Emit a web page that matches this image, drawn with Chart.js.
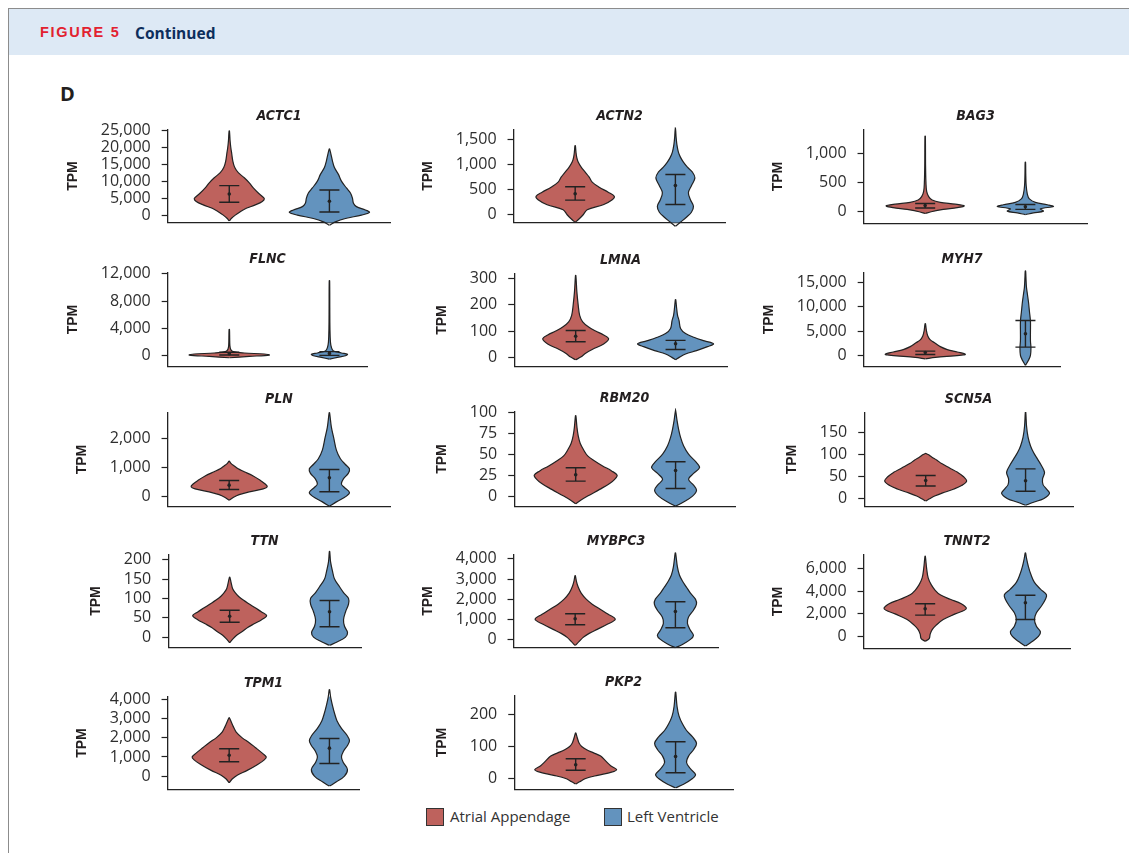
<!DOCTYPE html>
<html>
<head>
<meta charset="utf-8">
<script src="https://cdn.jsdelivr.net/npm/chart.js@4.4.0/dist/chart.umd.min.js"></script>
<style>
  body { margin: 0; background: #fff; }
  #page { position: relative; width: 1129px; height: 853px; overflow: hidden; font-family: 'Open Sans', sans-serif; }
  #frame { position: absolute; left: 8px; top: 8px; right: -2px; bottom: -2px; border-left: 1px solid #8c8c8c; border-top: 1px solid #8c8c8c; }
  #band { position: absolute; left: 9px; top: 9px; right: 0; height: 46px; background: #dde9f5; }
  #fig { position: absolute; left: 40px; top: 24px; font: 900 14.5px 'Liberation Sans', sans-serif; letter-spacing: 1.7px; color: #e2212f; }
  #cont { position: absolute; left: 135px; top: 22px; font: bold 15.5px 'Open Sans', sans-serif; color: #0d2e5c; }
  #panelD { position: absolute; left: 60px; top: 80px; font: bold 20px 'Open Sans', sans-serif; color: #231f20; }
  .ptitle { position: absolute; transform: translate(-50%, -50%); white-space: nowrap;
            font: italic bold 14px 'Liberation Sans Narrow', 'DejaVu Sans Condensed', 'Liberation Sans', sans-serif; color: #231f20; }
  .wrap { position: absolute; }
  .lbox { position: absolute; width: 16px; height: 16px; border: 1px solid #333; }
  .ltext { position: absolute; font: 15px 'Open Sans', sans-serif; color: #333; white-space: nowrap; }
</style>
</head>
<body>
<div id="page">
  <div id="frame"></div>
  <div id="band"></div>
  <div id="fig">FIGURE 5</div>
  <div id="cont">Continued</div>
  <div id="panelD">D</div>
  <div class="lbox" style="left:426px;top:808px;background:#be625d"></div>
  <div class="ltext" style="left:450px;top:806px">Atrial Appendage</div>
  <div class="lbox" style="left:604px;top:808px;background:#6393be"></div>
  <div class="ltext" style="left:627px;top:806px">Left Ventricle</div>
</div>
<script>
const genes = ['ACTC1', 'ACTN2', 'BAG3', 'FLNC', 'LMNA', 'MYH7', 'PLN', 'RBM20', 'SCN5A', 'TTN', 'MYBPC3', 'TNNT2', 'TPM1', 'PKP2'];
const groups = ['Atrial Appendage', 'Left Ventricle'];

// y axis range and tick labels per gene
const yMin = [-2150, -153, -201, -1566, -35.6, -2251, -357, -12.3, -17.5, -26.5, -397, -1064, -694, -34];
const yMax = [25200, 1699, 1412, 12190, 320, 16984, 2903, 100.8, 196, 213, 4214, 7270, 4157, 259];
const yTicks = [
  [0, 5000, 10000, 15000, 20000, 25000],
  [0, 500, 1000, 1500],
  [0, 500, 1000],
  [0, 4000, 8000, 12000],
  [0, 100, 200, 300],
  [0, 5000, 10000, 15000],
  [0, 1000, 2000],
  [0, 25, 50, 75, 100],
  [0, 50, 100, 150],
  [0, 50, 100, 150, 200],
  [0, 1000, 2000, 3000, 4000],
  [0, 2000, 4000, 6000],
  [0, 1000, 2000, 3000, 4000],
  [0, 100, 200]
];

// mean and error bar ends
const aaMean = [6200, 418, 105, 300, 80, 600, 382, 25.5, 41.6, 54, 1026, 2455, 1095, 43];
const aaLow  = [3800, 291, 65, 100, 59, 200, 232, 17.9, 29, 38.6, 729, 1890, 751, 26];
const aaHigh = [8700, 558, 140, 500, 102, 880, 545, 33.8, 53, 69.5, 1274, 2900, 1429, 61.6];
const lvMean = [4100, 584, 86, 340, 51, 4440, 638, 30.6, 41, 65.4, 1388, 2990, 1461, 69];
const lvLow  = [900, 205, 40, 50, 29, 1700, 153, 9.1, 17, 26.8, 580, 1510, 663, 18];
const lvHigh = [7400, 803, 125, 600, 64, 7160, 926, 41, 68, 94.5, 1869, 3660, 1967, 115];

// violin outlines: [TPM, density], density = half width in % of category spacing
const aaDensity = [
  [[-1700,0],[-1000,2],[0,6],[1000,11],[2000,17],[3000,26],[4000,33],[4800,35],[5500,33],[6500,29],[8000,24],[9500,20],[11000,15],[12500,9],[14000,5.5],[16000,3.5],[18000,2.5],[20000,1.5],[22000,0.8],[24800,0.2]],
  [[-150,0],[-100,3],[0,8],[100,12],[200,28],[300,37],[370,39],[450,33],[550,24],[650,17],[750,14],[850,10],[950,6],[1050,3],[1150,1.5],[1250,0.8],[1380,0.2]],
  [[-30,0],[0,6],[40,18],[70,32],[100,39],[130,30],[160,15],[200,7],[260,3.5],[350,1.5],[500,0.8],[800,0.4],[1300,0.2]],
  [[-300,0],[-100,20],[100,40],[250,35],[400,15],[600,4],[900,1.5],[1500,0.6],[2500,0.4],[3850,0.2]],
  [[-10,0],[0,5],[15,10],[30,17],[50,28],[70,33],[85,28],[100,20],[115,13],[135,7],[160,4],[200,2.5],[250,1.2],[313,0.2]],
  [[-700,0],[-400,10],[0,34],[250,40],[700,32],[1200,22],[1800,15],[2500,10],[3200,5],[4000,2.5],[5000,1.2],[6500,0.2]],
  [[-140,0],[-50,4],[50,10],[150,20],[250,34],[326,38],[420,36],[550,31],[700,24],[850,15],[950,9],[1050,5],[1130,2],[1214,0.2]],
  [[-9,0],[-5,5],[0,12],[8,24],[15,34],[20,39],[25,41.5],[30,36],[36,27],[42,19],[48,12],[55,8],[63,4.5],[72,2.5],[82,1.3],[96,0.2]],
  [[-5,0],[0,4],[6,9],[14,18],[21,27],[30,36],[40,41],[50,38],[60,32],[70,24],[80,16],[88,11],[95,6],[100,3],[103,0.3]],
  [[-14,0],[-5,3],[5,7],[15,13],[25,18],[35,25],[45,32],[55,37],[65,32],[75,26],[85,20],[95,14],[105,9],[115,5.5],[125,3],[140,1.5],[155,0.2]],
  [[-300,0],[-100,4],[100,8],[300,14],[500,22],[750,32],[1000,40],[1250,33],[1500,25],[1750,17],[2000,11],[2300,6],[2600,3],[2900,1.2],[3170,0.2]],
  [[-420,0],[-200,4],[200,5],[600,7],[1000,11],[1500,18],[2000,30],[2455,41],[2900,36],[3300,25],[3700,15],[4100,10],[4600,6],[5200,3],[6000,1.5],[7120,0.2]],
  [[-345,0],[-150,3],[50,8],[300,18],[600,28],[850,35],[1000,37],[1200,33],[1500,26],[1750,20],[2000,13],[2300,7],[2600,4],[2800,2.3],[3050,0.2]],
  [[-17,0],[-10,4],[0,10],[10,22],[20,36],[28,41],[40,35],[55,30],[70,25],[80,18],[90,11],[100,6],[110,3.5],[125,1.8],[142,0.2]]
];
const lvDensity = [
  [[-3000,0],[-2000,6],[-1000,16],[0,32],[800,40],[1500,36],[2500,27],[3500,24],[5000,23],[6500,21],[8000,17],[10000,12],[12000,9],[14000,5],[16000,3],[18000,1.5],[19500,0.2]],
  [[-230,0],[-150,5],[-50,11],[50,16],[170,18],[300,15],[440,13],[580,16],[735,19.5],[850,17],[950,12],[1050,8],[1150,5],[1250,3],[1400,1.5],[1550,0.7],[1700,0.2]],
  [[-50,0],[-20,8],[10,18],[50,15],[90,28],[120,22],[160,10],[220,4],[300,2],[450,0.8],[650,0.4],[850,0.2]],
  [[-500,0],[-250,8],[0,16],[200,18],[400,12],[700,4],[1200,2],[2000,1],[4000,0.5],[7000,0.35],[11000,0.2]],
  [[-10,0],[0,4],[12,10],[25,21],[40,32],[51,38],[62,29],[75,19],[90,10],[110,5],[140,3.5],[160,2],[190,1],[220,0.2]],
  [[-2000,0],[-1000,3],[0,5],[1500,5.5],[3000,5],[5000,5],[7000,5],[9000,4],[11000,3],[12500,2],[14000,1],[16000,0.5],[17300,0.2]],
  [[-350,0],[-200,7],[0,17],[130,20],[300,15],[420,12],[600,14],[800,19],[950,20],[1100,16],[1300,11],[1600,7],[2000,4.5],[2400,2],[2900,0.2]],
  [[-12,0],[-7,8],[0,17],[7,21],[13,18],[20,13],[27,18],[34,24],[40,21],[50,13],[60,8],[70,5],[80,3],[90,1.5],[101,0.2]],
  [[-15,0],[-8,8],[0,18],[12,24],[22,21],[32,17.5],[45,17],[60,19],[75,16],[90,12],[105,8],[120,5],[140,2.5],[165,1],[197,0.2]],
  [[-21,0],[-12,8],[0,16],[12,18],[28,15],[45,14],[65,16],[85,19],[100,19],[115,14],[130,10],[150,5],[170,3],[195,1],[221,0.2]],
  [[-410,0],[-250,7],[0,15],[200,18],[450,15],[800,12],[1100,13],[1450,18],[1750,21],[2000,20],[2300,15],[2600,11],[2900,7],[3200,4],[3600,2],[4300,0.2]],
  [[-860,0],[-500,6],[0,13],[400,15],[900,11],[1500,9],[2100,11],[2700,16],[3300,20],[3700,21],[4200,15],[4800,9],[5500,5.5],[6200,3],[7000,1],[7420,0.2]],
  [[-520,0],[-300,7],[0,15],[350,18],[700,14],[1000,12],[1300,14],[1600,18],[1850,20],[2100,18],[2500,12],[2900,7.5],[3300,5],[3700,3],[4100,1.3],[4520,0.2]],
  [[-29,0],[-18,8],[0,17],[12,20],[30,15],[50,11],[70,13],[90,18],[110,21],[130,17],[150,11],[170,7],[195,3.5],[225,1.5],[270,0.2]]
];

// panel placement on the page: y-axis x, plot top, plot right, plot bottom (px)
const panels = [
  [168, 130, 390, 223], [514, 130, 725, 223], [864, 130, 1087, 224],
  [168, 273, 367, 367], [514, 274, 727, 367], [864, 273, 1060, 367],
  [168, 413, 390, 507], [514, 412, 735, 507], [864, 413, 1073, 507],
  [168, 555, 361, 648], [514, 555, 718, 648], [864, 555, 1070, 649],
  [168, 697, 359, 790], [514, 696, 733, 790]
];

const colors = ['#be625d', '#6393be'];
const ink = '#222222';
const xStart = -0.615;   // category 0 sits 61.5px right of the y axis, 100px per category

function violin(center, profile) {
  const right = profile.map(([v, d]) => ({ x: center + Math.max(d, 0.15) / 100, y: v }));
  const left = profile.slice().reverse().map(([v, d]) => ({ x: center - Math.max(d, 0.15) / 100, y: v }));
  return right.concat(left);
}

function whisker(c, lo, hi) {
  const cap = 0.1;
  return [
    { x: c - cap, y: hi }, { x: c + cap, y: hi }, { x: c, y: null },
    { x: c, y: hi }, { x: c, y: lo }, { x: c, y: null },
    { x: c - cap, y: lo }, { x: c + cap, y: lo }
  ];
}

function makeConfig(i) {
  const [ax, top, right, bottom] = panels[i];
  const violinStyle = { showLine: true, fill: 'shape', borderColor: ink, borderWidth: 1.2, pointRadius: 0, tension: 0.35, clip: false, order: 3 };
  const barStyle = { showLine: true, fill: false, borderColor: ink, borderWidth: 1.4, pointRadius: 0, spanGaps: false, clip: false, order: 1 };
  return {
    type: 'scatter',
    data: {
      datasets: [
        { ...violinStyle, label: groups[0], data: violin(0, aaDensity[i]), backgroundColor: colors[0] },
        { ...violinStyle, label: groups[1], data: violin(1, lvDensity[i]), backgroundColor: colors[1] },
        { ...barStyle, data: whisker(0, aaLow[i], aaHigh[i]) },
        { ...barStyle, data: whisker(1, lvLow[i], lvHigh[i]) },
        { data: [{ x: 0, y: aaMean[i] }, { x: 1, y: lvMean[i] }], pointRadius: 1.8, pointBackgroundColor: ink, pointBorderWidth: 0, clip: false, order: 0 }
      ]
    },
    options: {
      responsive: false,
      maintainAspectRatio: false,
      animation: false,
      layout: { padding: { top: 4, right: 4, bottom: 14, left: 0 } },
      plugins: { legend: { display: false }, tooltip: { enabled: false } },
      scales: {
        x: {
          type: 'linear',
          min: xStart,
          max: xStart + (right - ax) / 100,
          ticks: { display: false },
          grid: { display: false, drawTicks: false },
          border: { display: true, color: ink, width: 1.3 }
        },
        y: {
          min: yMin[i],
          max: yMax[i],
          afterBuildTicks: s => { s.ticks = yTicks[i].map(v => ({ value: v })); },
          ticks: {
            color: '#2e2e2e',
            padding: 11,
            font: { family: 'Open Sans', size: 16 },
            callback: v => v.toLocaleString('en-US')
          },
          grid: { drawOnChartArea: false, drawTicks: true, tickLength: 6, tickColor: ink, tickWidth: 1.2 },
          border: { display: true, color: ink, width: 1.3 },
          title: {
            display: true,
            text: 'TPM',
            color: '#231f20',
            font: { family: 'Liberation Sans', weight: 'bold', size: 14 },
            padding: { top: 0, bottom: 8 }
          }
        }
      }
    }
  };
}

const page = document.getElementById('page');

genes.forEach((gene, i) => {
  const [ax, top, right, bottom] = panels[i];

  // measure where the plot area lands, then size and place the canvas to fit
  const probe = document.createElement('canvas');
  probe.width = 400; probe.height = 160;
  page.appendChild(probe);
  const tmp = new Chart(probe, makeConfig(i));
  const a = tmp.chartArea;
  const padL = a.left, padT = a.top, padR = tmp.width - a.right, padB = tmp.height - a.bottom;
  tmp.destroy();
  probe.remove();

  const wrap = document.createElement('div');
  wrap.className = 'wrap';
  wrap.style.left = (ax - padL) + 'px';
  wrap.style.top = (top - padT) + 'px';
  const cv = document.createElement('canvas');
  cv.width = Math.round(padL + (right - ax) + padR);
  cv.height = Math.round(padT + (bottom - top) + padB);
  wrap.appendChild(cv);
  page.appendChild(wrap);
  new Chart(cv, makeConfig(i));

  const t = document.createElement('div');
  t.className = 'ptitle';
  t.textContent = gene;
  t.style.left = ((ax + right) / 2) + 'px';
  t.style.top = (top - 15) + 'px';
  page.appendChild(t);
});
</script>
</body>
</html>
